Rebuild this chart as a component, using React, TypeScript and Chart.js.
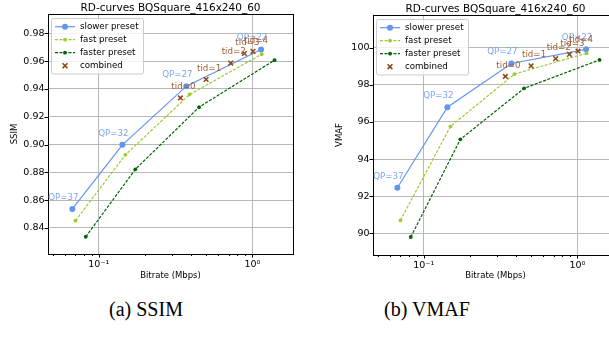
import React, { useEffect, useRef } from "react";
import { Chart, registerables } from "chart.js";
Chart.register(...registerables);

// ---------------- data ----------------
const seriesNames = ["slower preset", "fast preset", "faster preset", "combined"];
const qpLabels = ["QP=37", "QP=32", "QP=27", "QP=22"];
const tidLabels = ["tid=0", "tid=1", "tid=2", "tid=3", "tid=4"];

const slowerRate = [0.0673, 0.1425, 0.372, 1.14];
const fastRate = [0.0705, 0.149, 0.39, 1.15];
const fasterRate = [0.0823, 0.173, 0.45, 1.395];
const combinedRate = [0.34, 0.5, 0.723, 0.888, 1.01];

const slowerSSIM = [0.8537, 0.8998, 0.942, 0.9684];
const fastSSIM = [0.8453, 0.8926, 0.936, 0.965];
const fasterSSIM = [0.8337, 0.8822, 0.9269, 0.9607];
const combinedSSIM = [0.9335, 0.9468, 0.9586, 0.9655, 0.967];

const slowerVMAF = [92.45, 96.79, 99.15, 99.91];
const fastVMAF = [90.7, 95.75, 98.58, 99.7];
const fasterVMAF = [89.8, 95.06, 97.81, 99.34];
const combinedVMAF = [98.45, 99.02, 99.41, 99.64, 99.82];

const ssimTicks = [0.84, 0.86, 0.88, 0.9, 0.92, 0.94, 0.96, 0.98];
const vmafTicks = [90, 92, 94, 96, 98, 100];
const xMajorLabels: Record<string, string> = { "0.1": "10\u207B\u00B9", "1": "10\u2070" };

const chartTitle = "RD-curves BQSquare_416x240_60";
const xTitle = "Bitrate (Mbps)";
const captions = ["(a) SSIM", "(b) VMAF"];

// ---------------- styles ----------------
const FONT = "'DejaVu Sans', sans-serif";
const C_SLOW = "#6495ED";
const C_SLOW_TXT = "#7fa6f0";
const C_FAST = "#9ACD32";
const C_FASTER = "#006400";
const C_COMB = "#8B4513";
const C_COMB_TXT = "#a0603a";
const GRID = "#b8b8b8";
const X_MIN = 0.0467;
const X_MAX = 1.84;

function isMajor(v: number) {
  const l = Math.log10(v);
  return Math.abs(l - Math.round(l)) < 1e-9;
}

function logTicks(min: number, max: number) {
  const out: { value: number }[] = [];
  for (let e = -3; e <= 2; e++) {
    for (let m = 1; m <= 9; m++) {
      const v = m * Math.pow(10, e);
      if (v >= min && v <= max) out.push({ value: v });
    }
  }
  return out;
}

function pts(xs: number[], ys: number[]) {
  return xs.map((x, i) => ({ x, y: ys[i] }));
}

type Cfg = {
  yLabel: string;
  slower: number[];
  fast: number[];
  faster: number[];
  combined: number[];
  yTicks: number[];
  yMin: number;
  yMax: number;
  top: number;
  bottom: number;
  decimals: number;
};

function makeOverlay(cfg: Cfg) {
  return {
    id: "overlay",
    afterDraw(chart: any) {
      const { ctx, chartArea: a, scales } = chart;
      const xs = scales.x;
      const ys = scales.y;
      ctx.save();
      // tick marks
      ctx.strokeStyle = "#000";
      ctx.lineWidth = 1;
      for (const t of xs.ticks) {
        const px = Math.round(xs.getPixelForValue(t.value)) + 0.5;
        const len = isMajor(t.value) ? 3.5 : 2;
        ctx.beginPath();
        ctx.moveTo(px, a.bottom);
        ctx.lineTo(px, a.bottom + len);
        ctx.stroke();
      }
      for (const t of ys.ticks) {
        const py = Math.round(ys.getPixelForValue(t.value)) + 0.5;
        ctx.beginPath();
        ctx.moveTo(a.left - 3.5, py);
        ctx.lineTo(a.left, py);
        ctx.stroke();
      }
      // spines
      ctx.strokeRect(
        Math.round(a.left) + 0.5,
        Math.round(a.top) + 0.5,
        Math.round(a.right - a.left),
        Math.round(a.bottom - a.top)
      );

      // annotations
      ctx.font = `8.7px ${FONT}`;
      ctx.textAlign = "center";
      ctx.textBaseline = "middle";
      ctx.fillStyle = C_SLOW_TXT;
      slowerRate.forEach((x, i) => {
        const px = xs.getPixelForValue(x);
        const py = ys.getPixelForValue(cfg.slower[i]);
        ctx.fillText(qpLabels[i], px - 9, py - 11.5);
      });
      ctx.fillStyle = C_COMB_TXT;
      combinedRate.forEach((x, i) => {
        const px = xs.getPixelForValue(x);
        const py = ys.getPixelForValue(cfg.combined[i]);
        ctx.fillText(tidLabels[i], px + 3, py - 11);
      });

      // legend
      const lx = a.left + 3.5;
      const ly = a.top + 4.5;
      const lw = 92;
      const lh = 55.5;
      ctx.fillStyle = "rgba(255,255,255,0.8)";
      ctx.strokeStyle = "#cccccc";
      ctx.lineWidth = 1;
      ctx.beginPath();
      if (ctx.roundRect) ctx.roundRect(lx, ly, lw, lh, 2);
      else ctx.rect(lx, ly, lw, lh);
      ctx.fill();
      ctx.stroke();
      const colors = [C_SLOW, C_FAST, C_FASTER, C_COMB];
      seriesNames.forEach((name, i) => {
        const y = a.top + 12.7 + i * 13;
        const x0 = a.left + 7;
        const x1 = a.left + 27;
        const cx = (x0 + x1) / 2;
        const c = colors[i];
        ctx.strokeStyle = c;
        ctx.fillStyle = c;
        if (i < 3) {
          ctx.lineWidth = 1.2;
          ctx.setLineDash(i === 0 ? [] : [3, 1.5]);
          ctx.beginPath();
          ctx.moveTo(x0, y);
          ctx.lineTo(x1, y);
          ctx.stroke();
          ctx.setLineDash([]);
          ctx.beginPath();
          ctx.arc(cx, y, i === 0 ? 3 : 1.9, 0, Math.PI * 2);
          ctx.fill();
        } else {
          ctx.lineWidth = 1.5;
          const r = 2.4;
          ctx.beginPath();
          ctx.moveTo(cx - r, y - r);
          ctx.lineTo(cx + r, y + r);
          ctx.moveTo(cx + r, y - r);
          ctx.lineTo(cx - r, y + r);
          ctx.stroke();
        }
        ctx.fillStyle = "#000";
        ctx.font = `8.7px ${FONT}`;
        ctx.textAlign = "left";
        ctx.textBaseline = "middle";
        ctx.fillText(name, a.left + 32, y + 0.5);
      });

      // title & axis titles
      ctx.fillStyle = "#000";
      ctx.textAlign = "center";
      ctx.textBaseline = "alphabetic";
      ctx.font = `10.5px ${FONT}`;
      ctx.fillText(chartTitle, a.left + 245 / 2, a.top - 3.5);
      ctx.font = `8.5px ${FONT}`;
      ctx.textBaseline = "middle";
      ctx.fillText(xTitle, a.left + 245 / 2, 276);
      ctx.save();
      ctx.translate(15, (a.top + a.bottom) / 2);
      ctx.rotate(-Math.PI / 2);
      ctx.fillText(cfg.yLabel, 0, 0);
      ctx.restore();
      ctx.restore();
    },
  };
}

function RDChart({ cfg, left }: { cfg: Cfg; left: number }) {
  const ref = useRef<HTMLCanvasElement>(null);
  useEffect(() => {
    const canvas = ref.current!;
    const H = 290;
    const chart = new Chart(canvas, {
      type: "scatter",
      data: {
        datasets: [
          {
            label: seriesNames[0],
            data: pts(slowerRate, cfg.slower),
            showLine: true,
            borderColor: C_SLOW,
            backgroundColor: C_SLOW,
            borderWidth: 1.2,
            pointRadius: 3,
            pointBorderWidth: 0,
            order: 4,
          },
          {
            label: seriesNames[1],
            data: pts(fastRate, cfg.fast),
            showLine: true,
            borderColor: C_FAST,
            backgroundColor: C_FAST,
            borderWidth: 1.2,
            borderDash: [3, 1.5],
            pointRadius: 1.9,
            pointBorderWidth: 0,
            order: 3,
          },
          {
            label: seriesNames[2],
            data: pts(fasterRate, cfg.faster),
            showLine: true,
            borderColor: C_FASTER,
            backgroundColor: C_FASTER,
            borderWidth: 1.2,
            borderDash: [3, 1.5],
            pointRadius: 1.9,
            pointBorderWidth: 0,
            order: 2,
          },
          {
            label: seriesNames[3],
            data: pts(combinedRate, cfg.combined),
            showLine: false,
            borderColor: C_COMB,
            backgroundColor: C_COMB,
            pointStyle: "crossRot",
            pointRadius: 3.3,
            pointBorderWidth: 1.5,
            order: 1,
          },
        ],
      },
      options: {
        responsive: false,
        animation: false,
        devicePixelRatio: 1,
        layout: { padding: { top: cfg.top, left: 0, right: 300 - 293, bottom: 0 } },
        plugins: { legend: { display: false }, tooltip: { enabled: false }, title: { display: false } },
        scales: {
          x: {
            type: "logarithmic",
            min: X_MIN,
            max: X_MAX,
            afterBuildTicks: (s: any) => {
              s.ticks = logTicks(X_MIN, X_MAX);
            },
            afterFit: (s: any) => {
              s.height = H - cfg.bottom;
            },
            ticks: {
              autoSkip: false,
              maxRotation: 0,
              padding: 4.5,
              color: "#000",
              font: { family: FONT, size: 9.5 },
              callback: (v: any) => xMajorLabels[String(Number(v))] ?? "",
            },
            grid: {
              drawTicks: false,
              lineWidth: 1,
              color: (c: any) => (c.tick && isMajor(c.tick.value) ? GRID : "rgba(0,0,0,0)"),
            },
            border: { display: false },
          },
          y: {
            type: "linear",
            min: cfg.yMin,
            max: cfg.yMax,
            afterBuildTicks: (s: any) => {
              s.ticks = cfg.yTicks.map((v) => ({ value: v }));
            },
            afterFit: (s: any) => {
              s.width = 48;
            },
            ticks: {
              padding: 3.5,
              color: "#000",
              font: { family: FONT, size: 9.5 },
              callback: (v: any) => Number(v).toFixed(cfg.decimals),
            },
            grid: { drawTicks: false, lineWidth: 1, color: GRID },
            border: { display: false },
          },
        },
      },
      plugins: [makeOverlay(cfg)],
    } as any);
    return () => chart.destroy();
  }, []);
  return (
    <canvas
      ref={ref}
      width={300}
      height={290}
      style={{ position: "absolute", left, top: 0, width: 300, height: 290 }}
    />
  );
}

const ssimCfg: Cfg = {
  yLabel: "SSIM",
  slower: slowerSSIM,
  fast: fastSSIM,
  faster: fasterSSIM,
  combined: combinedSSIM,
  yTicks: ssimTicks,
  yMin: 0.8213,
  yMax: 0.9939,
  top: 14,
  bottom: 254,
  decimals: 2,
};

const vmafCfg: Cfg = {
  yLabel: "VMAF",
  slower: slowerVMAF,
  fast: fastVMAF,
  faster: fasterVMAF,
  combined: combinedVMAF,
  yTicks: vmafTicks,
  yMin: 88.83,
  yMax: 101.76,
  top: 15,
  bottom: 255,
  decimals: 0,
};

export default function App() {
  const capStyle: React.CSSProperties = {
    position: "absolute",
    top: 299,
    width: 200,
    textAlign: "center",
    fontFamily: "'Liberation Serif', serif",
    fontSize: 20,
    lineHeight: "20px",
    color: "#000",
    whiteSpace: "nowrap",
  };
  return (
    <div
      style={{
        position: "absolute",
        left: 0,
        top: 0,
        width: 609,
        height: 338,
        overflow: "hidden",
        background: "#fff",
      }}
    >
      <RDChart cfg={ssimCfg} left={0} />
      <RDChart cfg={vmafCfg} left={325} />
      <div style={{ ...capStyle, left: 146 - 100 }}>{captions[0]}</div>
      <div style={{ ...capStyle, left: 427 - 100 }}>{captions[1]}</div>
    </div>
  );
}
